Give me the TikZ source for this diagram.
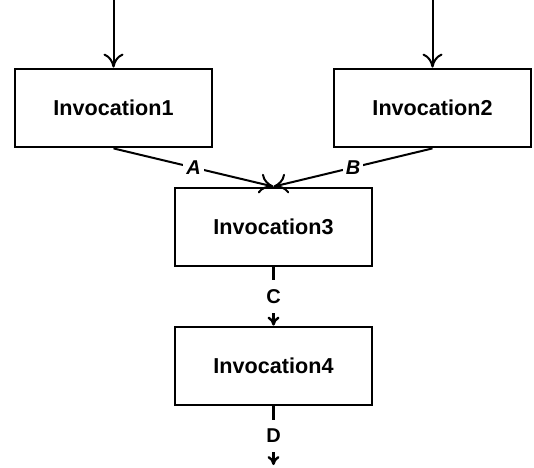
\documentclass[tikz,border=0pt]{standalone}
\usepackage{fontspec}
\setmainfont{Liberation Sans}
\usetikzlibrary{arrows.meta}
\begin{document}
\begin{tikzpicture}[x=1pt,y=-1pt,
  box/.style={draw, line width=2.8pt, minimum width=197pt, minimum height=78pt, inner sep=0pt,
    font=\fontsize{21.6}{24}\selectfont\bfseries},
  big/.style={line width=2pt, -{Computer Modern Rightarrow[length=14pt,width=20pt,line width=2pt]}},
  small/.style={line width=2.4pt, -{Computer Modern Rightarrow[length=9pt,width=12pt,line width=2.4pt]}},
  lbl/.style={fill=white, inner xsep=3pt, inner ysep=3pt, font=\fontsize{20}{22}\selectfont\bfseries},
  vlbl/.style={fill=white, inner xsep=3pt, inner ysep=9pt, font=\fontsize{20}{22}\selectfont\bfseries}]
\useasboundingbox (0,0) rectangle (534,467);
\node[box] (i1) at (113.5,108) {Invocation1};
\node[box] (i2) at (432.5,108) {Invocation2};
\node[box] (i3) at (273.5,227) {Invocation3};
\node[box] (i4) at (273.5,366) {Invocation4};
\coordinate (s1) at (113.5,0);
\coordinate (s2) at (432.5,0);
\coordinate (e4) at (273.5,465);
\draw[big] (s1) -- (i1.north);
\draw[big] (s2) -- (i2.north);
\draw[big] (i1.south) -- node[lbl] {\itshape A} (i3.north);
\draw[big] (i2.south) -- node[lbl] {\itshape B} (i3.north);
\draw[small] (i3.south) -- node[vlbl, pos=0.5] {C} (i4.north);
\draw[small] (i4.south) -- node[vlbl, pos=0.5] {D} (e4);
\end{tikzpicture}
\end{document}
